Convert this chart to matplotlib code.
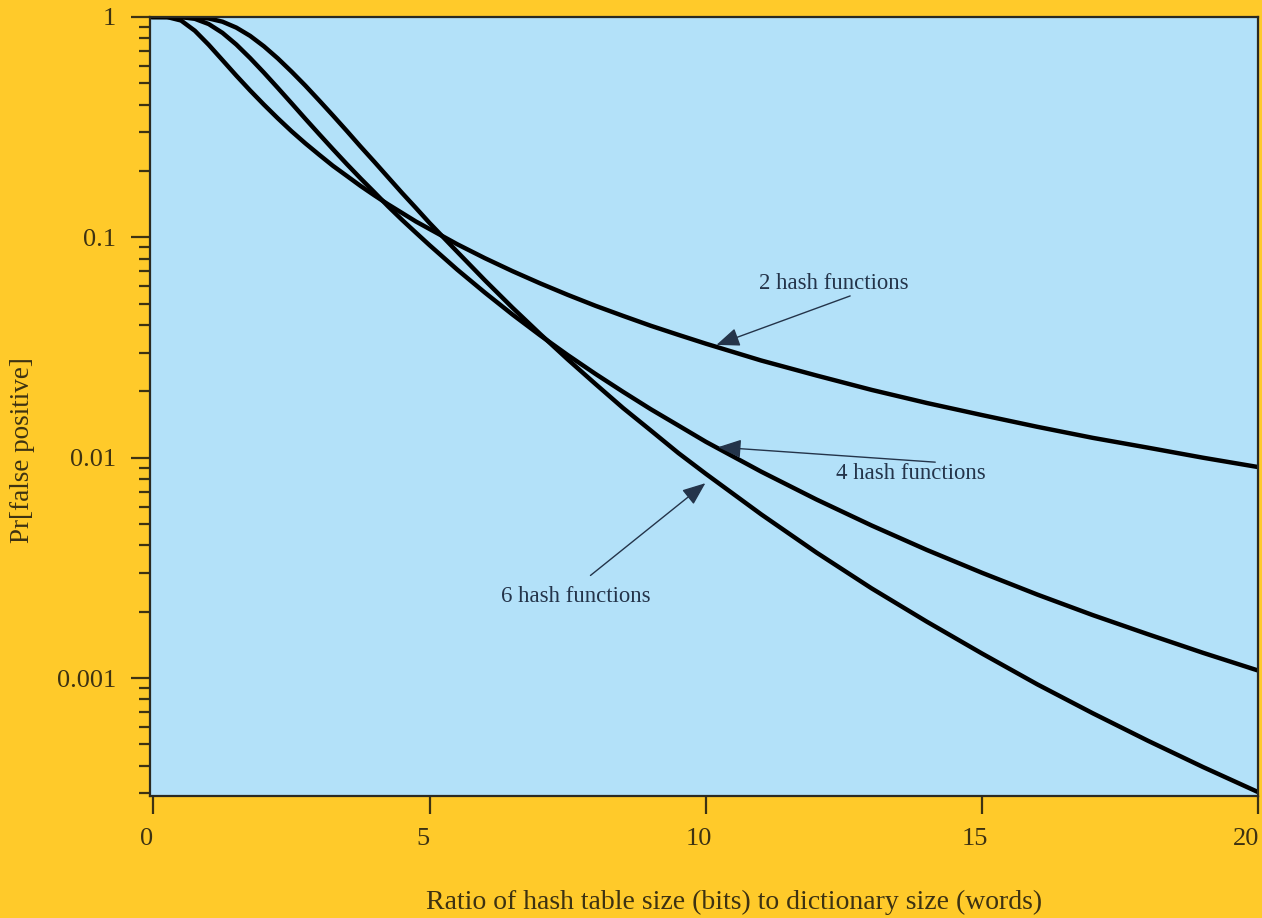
import matplotlib
matplotlib.use("Agg")
import matplotlib.pyplot as plt
from matplotlib.ticker import LogLocator, FixedLocator, NullFormatter
from matplotlib.transforms import ScaledTranslation

# Ratio of table bits to dictionary words
ratio = [0, 0.25, 0.5, 0.75, 1, 1.25, 1.5, 1.75, 2, 2.25, 2.5, 2.75, 3, 3.25,
         3.5, 3.75, 4, 4.25, 4.5, 4.75, 5, 5.5, 6, 6.5, 7, 7.5, 8, 8.5, 9,
         9.5, 10, 11, 12, 13, 14, 15, 16, 17, 18, 19, 20]

# False positive probability for each number of hash functions
fp_2 = [1.0, 0.9993, 0.964, 0.866, 0.748, 0.637, 0.542, 0.464, 0.400, 0.347,
        0.303, 0.267, 0.237, 0.211, 0.190, 0.171, 0.155, 0.141, 0.129, 0.118,
        0.109, 0.0930, 0.0804, 0.0702, 0.0618, 0.0548, 0.0489, 0.0440,
        0.0397, 0.0361, 0.0329, 0.0276, 0.0236, 0.0203, 0.0177, 0.0156,
        0.0138, 0.0123, 0.0111, 0.00999, 0.00906]
fp_4 = [1.0, 1.0, 0.9987, 0.981, 0.929, 0.847, 0.750, 0.651, 0.559, 0.477,
        0.406, 0.345, 0.294, 0.251, 0.215, 0.185, 0.160, 0.138, 0.120, 0.105,
        0.0920, 0.0713, 0.0561, 0.0446, 0.0359, 0.0292, 0.0240, 0.0199,
        0.0166, 0.0140, 0.0118, 0.00864, 0.00646, 0.00492, 0.00381,
        0.00300, 0.00239, 0.00193, 0.00158, 0.00130, 0.00108]
fp_6 = [1.0, 1.0, 1.0, 0.998, 0.985, 0.952, 0.895, 0.821, 0.736, 0.649,
        0.565, 0.488, 0.418, 0.357, 0.304, 0.258, 0.220, 0.187, 0.159, 0.136,
        0.116, 0.0859, 0.0638, 0.0479, 0.0364, 0.0279, 0.0216, 0.0168,
        0.0133, 0.0105, 0.00844, 0.00553, 0.00371, 0.00255, 0.00180,
        0.00129, 0.000935, 0.000692, 0.000519, 0.000394, 0.000303]

x_ticks = [0, 5, 10, 15, 20]
x_tick_labels = ["0", "5", "10", "15", "20"]
y_ticks = [1, 0.1, 0.01, 0.001]
y_tick_labels = ["1", "0.1", "0.01", "0.001"]

# label text, text anchor, arrow tail, arrow head (data coordinates)
labels = ["2 hash functions", "4 hash functions", "6 hash functions"]
label_xy = [(12.31, 0.0615), (13.70, 0.0085), (7.64, 0.00235)]
arrow_tail = [(12.61, 0.0542), (14.15, 0.00954), (7.91, 0.00292)]
arrow_head = [(10.19, 0.0325), (10.22, 0.01116), (9.99, 0.00766)]

BG = "#FFCA2A"
PANEL = "#B3E1F9"
TICK = "#3d3212"
NOTE = "#24344a"

fig = plt.figure(figsize=(12.62, 9.18), dpi=100, facecolor=BG)
ax = fig.add_axes([0.1185, 0.1324, 0.8787, 0.8491], facecolor=PANEL)

for series in (fp_2, fp_4, fp_6):
    ax.plot(ratio, series, color="black", lw=3.2, solid_joinstyle="round")

ax.set_yscale("log")
ax.set_xlim(-0.07, 20)
ax.set_ylim(2.9e-4, 1.0)

serif = ["Liberation Serif", "DejaVu Serif"]

ax.xaxis.set_major_locator(FixedLocator(x_ticks))
ax.set_xticklabels(x_tick_labels, family=serif, fontsize=19, color=TICK)
ax.yaxis.set_major_locator(FixedLocator(y_ticks))
ax.set_yticklabels(y_tick_labels, family=serif, fontsize=19, color=TICK)
ax.yaxis.set_minor_locator(LogLocator(base=10, subs=range(2, 10)))
ax.yaxis.set_minor_formatter(NullFormatter())

ax.tick_params(axis="x", which="major", direction="out", length=13,
               width=1.6, color=TICK, pad=10)
ax.tick_params(axis="y", which="major", direction="out", length=14,
               width=1.6, color=TICK, pad=10)
ax.tick_params(axis="y", which="minor", direction="out", length=8,
               width=1.6, color=TICK)
ax.tick_params(axis="x", which="minor", length=0)

# x tick labels sit slightly left of their ticks
xlabels = ax.get_xticklabels()
for i, lab in enumerate(xlabels):
    dx = -12 if i == len(xlabels) - 1 else -7
    lab.set_transform(lab.get_transform() +
                      ScaledTranslation(dx / 100, 0, fig.dpi_scale_trans))

for sp in ax.spines.values():
    sp.set_color("#2a2a22")
    sp.set_linewidth(1.6)

fig.text(734 / 1262, 1 - 902 / 918,
         "Ratio of hash table size (bits) to dictionary size (words)",
         family=serif, fontsize=20, color=TICK, ha="center", va="center")
fig.text(23 / 1262, 1 - 450 / 918, "Pr[false positive]", family=serif,
         fontsize=19.5, color=TICK, ha="center", va="center", rotation=90)

for text, xy, tail, head in zip(labels, label_xy, arrow_tail, arrow_head):
    ax.text(xy[0], xy[1], text, family=serif, fontsize=16.4, color=NOTE,
            ha="center", va="center")
    ax.annotate("", xy=head, xytext=tail,
                arrowprops=dict(arrowstyle="-|>,head_length=0.75,head_width=0.3",
                                color=NOTE, lw=1.0, shrinkA=0, shrinkB=0,
                                mutation_scale=19))

fig.savefig("out.png", dpi=100, facecolor=BG)
